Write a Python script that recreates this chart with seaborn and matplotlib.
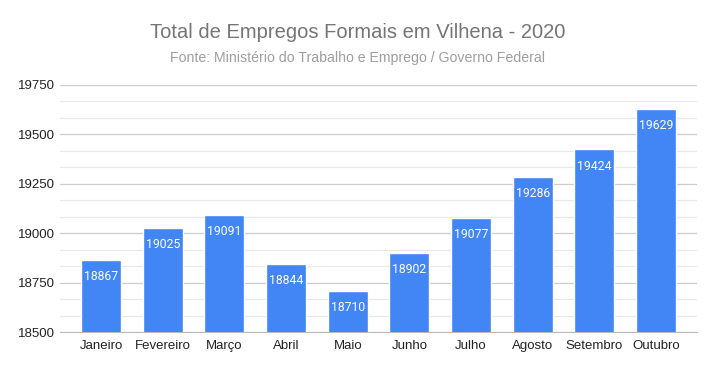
import numpy as np
import pandas as pd
import seaborn as sns
import matplotlib.pyplot as plt
from matplotlib.ticker import MultipleLocator

# Dados
meses = ["Janeiro", "Fevereiro", "Março", "Abril", "Maio", "Junho",
         "Julho", "Agosto", "Setembro", "Outubro"]
empregos = [18867, 19025, 19091, 18844, 18710, 18902, 19077, 19286, 19424, 19629]

df = pd.DataFrame({"mes": meses, "empregos": empregos})

sns.set_style("white")
plt.rcParams["font.family"] = ["Liberation Sans", "DejaVu Sans"]

fig = plt.figure(figsize=(7.15, 3.71), dpi=100)
ax = fig.add_axes([0.084, 0.105, 0.891, 0.666])

sns.barplot(data=df, x="mes", y="empregos", color="#4285F4", width=0.65,
            saturation=1, ax=ax, zorder=3)

ax.set_xlim(-0.666, 9.666)
ax.set_ylim(18500, 19750)
ax.yaxis.set_major_locator(MultipleLocator(250))
ax.yaxis.set_minor_locator(MultipleLocator(250 / 3))
ax.grid(axis="y", which="major", color="#cccccc", linewidth=0.9, zorder=0)
ax.grid(axis="y", which="minor", color="#e8e8e8", linewidth=0.9, zorder=0)
ax.set_axisbelow(True)
for s in ["top", "right", "left"]:
    ax.spines[s].set_visible(False)
ax.spines["bottom"].set_color("#bbbbbb")
ax.tick_params(axis="both", which="both", length=0, labelsize=9.5,
               colors="#222222")
ax.tick_params(axis="x", pad=6)
ax.set_xlabel("")
ax.set_ylabel("")

# Rótulos nas barras
for i, v in enumerate(empregos):
    ax.annotate(str(v), (i, v), xytext=(0, -12), textcoords="offset points",
                ha="center", va="center", color="white", fontsize=8.8,
                family=["Roboto", "DejaVu Sans"])

fig.text(0.5, 0.913, "Total de Empregos Formais em Vilhena - 2020",
         ha="center", va="center", fontsize=14.5, color="#757575")
fig.text(0.5, 0.843, "Fonte: Ministério do Trabalho e Emprego / Governo Federal",
         ha="center", va="center", fontsize=10.2, color="#9e9e9e")

fig.savefig("out.png", dpi=100)
